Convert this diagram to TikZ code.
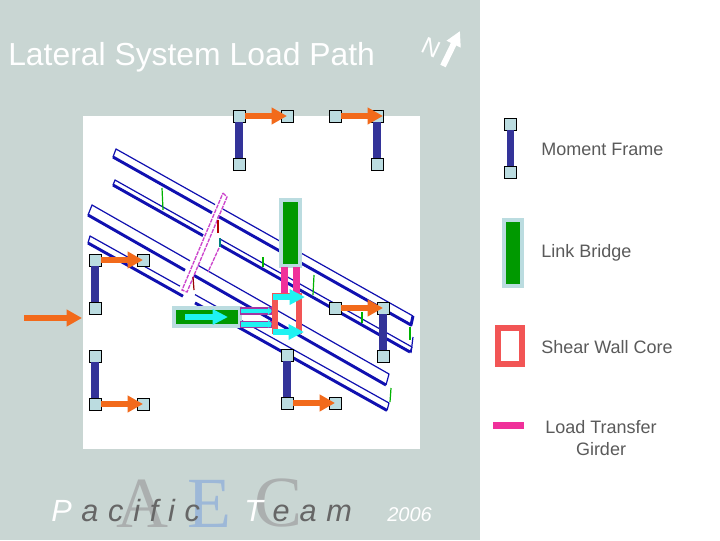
\documentclass[tikz,border=0pt]{standalone}
\usepackage{fontspec}
\setmainfont{Liberation Sans}
\newfontfamily\bigserif{Liberation Serif}
\usetikzlibrary{arrows.meta}
\newcommand\widesp{\spaceskip=7.3pt\relax}
\definecolor{bgc}{HTML}{C9D6D3}
\definecolor{colc}{HTML}{333399}
\definecolor{sqc}{HTML}{BBDCE0}
\definecolor{orc}{HTML}{F26A1B}
\definecolor{cyc}{HTML}{1FF2F2}
\definecolor{grc}{HTML}{009900}
\definecolor{redc}{HTML}{F25555}
\definecolor{pkc}{HTML}{F0309A}
\definecolor{bmc}{HTML}{1010B0}
\definecolor{mgc}{HTML}{CC44CC}
\definecolor{txc}{HTML}{5A5A5A}
\definecolor{dkt}{HTML}{666666}
\definecolor{acgray}{HTML}{ABAFAF}
\definecolor{eblue}{HTML}{9DB8D8}
\tikzset{
  x=0.75pt,y=-0.75pt,
  sq/.style={draw=black,line width=0.75pt,fill=sqc,minimum size=9pt,inner sep=0pt,outer sep=0pt},
  col/.style={draw=colc,line width=5.5pt},
  orarrow/.style={draw=orc,line width=5pt,-{Triangle[length=11.5pt,width=12pt]}},
  cyarrow/.style={draw=cyc,line width=4.5pt,-{Triangle[length=11.5pt,width=11pt]}},
  cysmall/.style={draw=cyc,line width=3.5pt,-{Triangle[length=3pt,width=5.5pt]}},
  thinb/.style={draw=bmc,line width=0.9pt,line join=round},
  thickb/.style={draw=bmc,line width=2.2pt,line join=round},
  tick/.style={draw=#1,line width=0.9pt},
  memb/.style={draw=mgc,line width=1pt,dash pattern=on 3pt off 0.8pt},
  linkbox/.style={draw=sqc,fill=grc,line width=3pt,inner sep=0pt,outer sep=0pt},
  wall/.style={fill=redc,inner sep=0pt,outer sep=0pt},
  girder/.style={fill=pkc,inner sep=0pt,outer sep=0pt},
  hgirder/.style={fill=cyc,draw=mgc!80!black,line width=1pt,inner sep=0pt,outer sep=0pt},
  legend/.style={text=txc,anchor=base west,inner sep=0pt,font=\fontsize{13.5}{15}\selectfont},
  bigl/.style={anchor=base west,inner sep=0pt,font=\bigserif\fontsize{54}{56}\selectfont},
  spaced/.style={anchor=base west,inner sep=0pt,text=dkt,font=\itshape\fontsize{23}{26}\selectfont},
}
\begin{document}
\begin{tikzpicture}
\useasboundingbox (0,0) rectangle (720,540);
\fill[white] (0,0) rectangle (720,540);
\fill[bgc] (0,0) rectangle (480,540);
\fill[white] (83,116) rectangle (420,449);
% title and north arrow
\node[anchor=base west,inner sep=0pt,text=white,font=\fontsize{23.9}{28}\selectfont] (title) at (8,65) {Lateral System Load Path};
\node[text=white,rotate=-25,inner sep=0pt,font=\fontsize{18}{20}\selectfont] (north) at (431,47.5) {N};
\coordinate (na) at (443,66);
\coordinate (nb) at (460,31);
\draw[white,line width=4.5pt,-{Triangle[length=11pt,width=11pt]}] (na) -- (nb);
% beams (plan of the building)
\draw[thickb] (218,216.2) -- (411,325) -- (413,316);
\draw[thinb] (413,316) -- (223,209.1);
\draw[thinb] (215,204.6) -- (116,149) -- (113,157);
\draw[thickb] (113,157) -- (212,212.8);
\draw[thickb] (220,245) -- (410,352);
\draw[thinb] (410,352) -- (412,347) -- (220,239);
\draw[thinb] (203,229.5) -- (115,180) -- (113,185);
\draw[thickb] (113,185) -- (203,235.6);
\draw[thinb] (198,265.3) -- (389,374) -- (386,385);
\draw[thickb] (194,275.4) -- (386,385);
\draw[thinb] (190,260.8) -- (92,205) -- (88,215);
\draw[thickb] (88,215) -- (185,270.3);
\draw[thinb] (195,294.6) -- (389,403) -- (387,410.4);
\draw[thickb] (195,302.9) -- (387,410.4);
\draw[thinb] (180,286.2) -- (90,236) -- (88,243);
\draw[thickb] (88,243) -- (183,296.2);
% inclined member
\draw[memb] (223,193) -- (227,197) -- (187,292) -- (182,290) -- cycle;
\draw[memb] (219,248) -- (208,272);
% small ticks
\draw[tick=green!70!black] (162,188) -- (163,210);
\draw[tick=red!70!black] (218,220) -- (218,233);
\draw[tick=teal] (220,238) -- (220,247);
\draw[tick=red!60!black] (193,277) -- (194,290);
\draw[tick=green!70!black] (263,257) -- (263,267);
\draw[tick=green!70!black] (314,275) -- (313,295);
\draw[tick=green!70!black] (362,312) -- (362,323);
\draw[tick=green!70!black] (410,327) -- (410,340);
\draw[tick=green!70!black] (391,388) -- (390,402);
\draw[tick=bmc] (413,337) -- (411,353);
% link bridges
\node[linkbox,minimum width=14.25pt,minimum height=49.5pt] (lbv) at (290,233) {};
\node[girder,minimum width=5.25pt,minimum height=19.5pt] (g1) at (284.5,280) {};
\node[girder,minimum width=5.25pt,minimum height=19.5pt] (g2) at (296.5,280) {};
% shear core
\node[wall,minimum width=4.5pt,minimum height=30.75pt] (w1) at (275,313.5) {};
\node[wall,minimum width=4.5pt,minimum height=30.75pt] (w2) at (299,313.5) {};
\fill[redc] (272,293) rectangle (302,296);
\fill[redc] (272,331) rectangle (302,334);
\node[linkbox,minimum width=49.5pt,minimum height=13.5pt] (lbh) at (206.5,317) {};
\node[hgirder,minimum width=23.25pt,minimum height=4.5pt] (hg1) at (256,311) {};
\node[hgirder,minimum width=23.25pt,minimum height=4.5pt] (hg2) at (256,324.5) {};
% load arrows in the core area
\coordinate (c1a) at (273,297);
\coordinate (c1b) at (305,297);
\coordinate (c2a) at (273,332);
\coordinate (c2b) at (304,332);
\draw[cyarrow] (c1a) -- (c1b);
\draw[cyarrow] (c2a) -- (c2b);
\coordinate (c3a) at (185,317);
\coordinate (c3b) at (228,317);
\draw[cyarrow] (c3a) -- (c3b);
\coordinate (c4a) at (243,311);
\coordinate (c4b) at (272,311);
\coordinate (c5a) at (243,324);
\coordinate (c5b) at (272,324);
\draw[cysmall] (c4a) -- (c4b);
\draw[cysmall] (c5a) -- (c5b);
% moment frames
\node[sq] (a1) at (239,116) {};
\node[sq] (a2) at (239,164) {};
\node[sq] (a3) at (287,116) {};
\draw[col] (a1) -- (a2);
\draw[orarrow] (a1.east) -- (a3.center);
\node[sq] (b1) at (335,116) {};
\node[sq] (b2) at (377,116) {};
\node[sq] (b3) at (377,164) {};
\draw[col] (b2) -- (b3);
\draw[orarrow] (b1.east) -- (b2.east);
\node[sq] (c1) at (95,260) {};
\node[sq] (c2) at (143,260) {};
\node[sq] (c3) at (95,308) {};
\draw[col] (c1) -- (c3);
\draw[orarrow] (c1.east) -- (c2.center);
\node[sq] (d1) at (95,356) {};
\node[sq] (d2) at (95,404) {};
\node[sq] (d3) at (143,404) {};
\draw[col] (d1) -- (d2);
\draw[orarrow] (d2.east) -- (d3.center);
\node[sq] (e1) at (287,355) {};
\node[sq] (e2) at (287,403) {};
\node[sq] (e3) at (335,403) {};
\draw[col] (e1) -- (e2);
\draw[orarrow] (e2.east) -- (e3.center);
\node[sq] (f1) at (335,308) {};
\node[sq] (f2) at (383,308) {};
\node[sq] (f3) at (383,356) {};
\draw[col] (f2) -- (f3);
\draw[orarrow] (f1.east) -- (f2.center);
\coordinate (la) at (24,318);
\coordinate (lb) at (82,318);
\draw[orarrow] (la) -- (lb);
% legend
\node[sq] (k1) at (510.5,124) {};
\node[sq] (k2) at (510.5,172) {};
\draw[col] (k1) -- (k2);
\node[legend] (t1) at (541,155) {Moment Frame};
\node[linkbox,minimum width=13.5pt,minimum height=49.5pt] (k3) at (513,253) {};
\node[legend] (t2) at (541,257.5) {Link Bridge};
\draw[redc,line width=4.5pt] (498,328) rectangle (522,364);
\node[legend] (t3) at (541,353.5) {Shear Wall Core};
\node[girder,minimum width=23.25pt,minimum height=5.25pt] (k4) at (508.5,425.5) {};
\node[legend,anchor=base,align=center] (t4) at (601,455) {Load Transfer\\[1.5pt]Girder};
% footer
\node[bigl,text=acgray] (la1) at (116,527) {A};
\node[bigl,text=eblue] (le) at (187,527) {E};
\node[bigl,text=acgray] (lc) at (254,526) {C};
\node[spaced] (p1) at (51,521) {\widesp\textcolor{white}{P} a c i f i c};
\node[spaced] (p2) at (244,521) {\widesp\textcolor{white}{T} e a m};
\node[anchor=base west,inner sep=0pt,text=white,font=\itshape\fontsize{15}{18}\selectfont] (yr) at (387,521) {2006};
\end{tikzpicture}
\end{document}
